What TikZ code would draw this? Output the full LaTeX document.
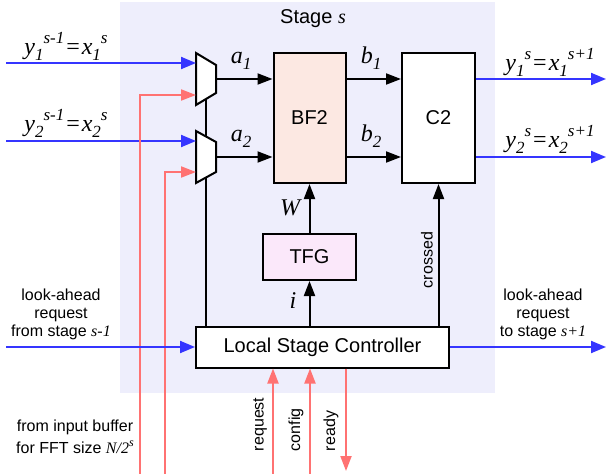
\documentclass[tikz,border=0pt]{standalone}
\usepackage{fontspec}
\setmainfont{Liberation Sans}
\newfontfamily\serf{Liberation Serif}
\usetikzlibrary{arrows.meta}
\newcommand{\fs}[1]{\fontsize{#1}{#1}\selectfont}
\newcommand{\sub}[1]{\raisebox{-0.5ex}{\fs{17}#1}}
\newcommand{\sups}[1]{\raisebox{1.05ex}{\fs{17}#1}}
\newcommand{\eqlbl}[5]{{\serf\itshape\fs{24}#1\sub{#2}\sups{#3}\hspace{2pt}{\upshape=}\hspace{2pt}#4\sub{#2}\sups{#5}}}
\definecolor{bgc}{HTML}{EEEEFC}
\definecolor{bfc}{HTML}{FCE8E2}
\definecolor{tfgc}{HTML}{FBE8FA}
\definecolor{blu}{HTML}{3535FF}
\definecolor{rd}{HTML}{FF7272}
\begin{document}
\begin{tikzpicture}[x=1pt,y=-1pt,
  line width=2pt,
  box/.style={draw=black, line width=2pt, fill=white, inner sep=0pt, font=\fs{20}},
  arr/.style={-{Triangle[length=15pt,width=11pt]}},
  bluearr/.style={draw=blu, -{Triangle[length=15pt,width=12pt]}, blu},
  redarr/.style={draw=rd, -{Triangle[length=15pt,width=11pt]}, rd},
  mlbl/.style={font=\serf\itshape\fs{24}, inner sep=0pt},
  slbl/.style={font=\fontsize{16}{18}\selectfont, align=center, inner sep=0pt}]
\useasboundingbox (0,0) rectangle (606,474);
\fill[bgc] (120,2) rectangle (495,393);
\node[font=\fs{20}] (stage) at (313,19) {Stage {\serf\itshape s}};

% boxes
\node[box, fill=bfc, minimum width=72pt, minimum height=130pt] (bf2) at (309.5,118) {BF2};
\node[box, minimum width=73pt, minimum height=130pt] (c2) at (438.5,118) {C2};
\node[box, fill=tfgc, minimum width=93pt, minimum height=46pt] (tfg) at (309.5,257) {TFG};
\node[box, minimum width=253pt, minimum height=41pt] (lsc) at (322.5,347) {Local Stage Controller};

% mux select line
\coordinate (sel) at (206,99);
\draw (lsc.north -| sel) -- (sel);

% muxes
\coordinate (m1out) at (216,79);
\coordinate (m2out) at (216,157);
\draw[fill=white, line join=miter] (196,53) -- (216,65) -- (216,93) -- (196,105) -- cycle;
\draw[fill=white, line join=miter] (196,131) -- (216,142) -- (216,172) -- (196,183) -- cycle;
\coordinate (m1in1) at (196,63);
\coordinate (m1in2) at (196,95);
\coordinate (m2in1) at (196,141);
\coordinate (m2in2) at (196,172);

% inputs
\coordinate (in1) at (6,63);
\coordinate (in2) at (6,141);
\draw[bluearr] (in1) -- (m1in1);
\draw[bluearr] (in2) -- (m2in1);
\coordinate (r1) at (140,474);
\coordinate (r2) at (165,474);
\draw[redarr] (r1) |- (m1in2);
\draw[redarr] (r2) |- (m2in2);

% mux to BF2
\draw[arr] (m1out) -- (m1out -| bf2.west);
\draw[arr] (m2out) -- (m2out -| bf2.west);
% BF2 to C2
\draw[arr] (m1out -| bf2.east) -- (m1out -| c2.west);
\draw[arr] (m2out -| bf2.east) -- (m2out -| c2.west);
% outputs
\coordinate (o1) at (606,79);
\coordinate (o2) at (606,157);
\draw[bluearr] (o1 -| c2.east) -- (o1);
\draw[bluearr] (o2 -| c2.east) -- (o2);

% controller links
\draw[arr] (lsc.north -| tfg.south) -- (tfg.south);
\draw[arr] (tfg.north) -- (bf2.south);
\draw[arr] (lsc.north -| c2.south) -- (c2.south);

% look-ahead
\coordinate (lin) at (6,347);
\coordinate (lout) at (606,347);
\draw[bluearr] (lin) -- (lsc.west);
\draw[bluearr] (lsc.east) -- (lout);

% bottom signals
\coordinate (rq) at (273,474);
\coordinate (cf) at (310,474);
\coordinate (rdy) at (346,471);
\draw[redarr] (rq) -- (rq |- lsc.south);
\draw[redarr] (cf) -- (cf |- lsc.south);
\draw[redarr] (rdy |- lsc.south) -- (rdy);

% labels
\node[inner sep=0pt] (li1) at (66,46) {\eqlbl{y}{1}{s-1}{x}{s}};
\node[inner sep=0pt] (li2) at (66,123) {\eqlbl{y}{2}{s-1}{x}{s}};
\node[inner sep=0pt] (lo1) at (550,62) {\eqlbl{y}{1}{s}{x}{s+1}};
\node[inner sep=0pt] (lo2) at (550,139) {\eqlbl{y}{2}{s}{x}{s+1}};
\node[mlbl] (la1) at (241,61) {a\sub{1}};
\node[mlbl] (la2) at (241,139) {a\sub{2}};
\node[mlbl] (lb1) at (371,58) {b\sub{1}};
\node[mlbl] (lb2) at (371,136) {b\sub{2}};
\node[mlbl] (lw) at (290,208) {W};
\node[mlbl] (li) at (293,301) {i};
\node[slbl, rotate=90] (lcr) at (427,260) {crossed};
\node[slbl, rotate=90, anchor=west] (lrq) at (260,452) {request};
\node[slbl, rotate=90, anchor=west] (lcf) at (296,452) {config};
\node[slbl, rotate=90, anchor=west] (lrd) at (331,452) {ready};
\node[slbl] (lla) at (61,314) {look-ahead\\request\\from stage {\serf\itshape s-1}};
\node[slbl] (lra) at (543,314) {look-ahead\\request\\to stage {\serf\itshape s+1}};
\node[slbl] (lbuf) at (75,437) {from input buffer\\[4pt]for FFT size {\serf\itshape N/2\raisebox{1ex}{\fs{12}s}}};
\end{tikzpicture}
\end{document}
